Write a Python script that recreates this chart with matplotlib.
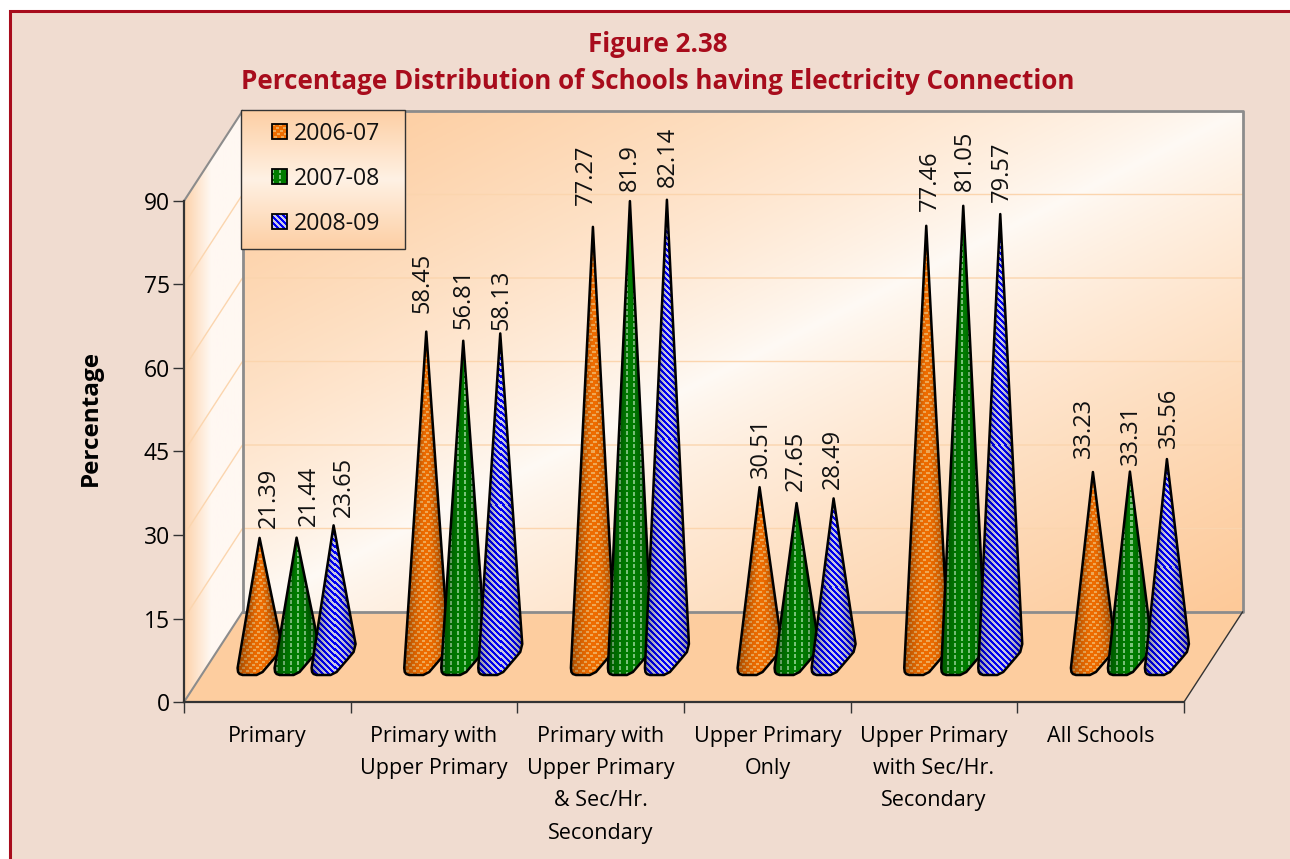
import numpy as np
import matplotlib
matplotlib.use("Agg")
import matplotlib.pyplot as plt
from matplotlib.patches import Polygon, Rectangle

categories = [
    "Primary",
    "Primary with\nUpper Primary",
    "Primary with\nUpper Primary\n& Sec/Hr.\nSecondary",
    "Upper Primary\nOnly",
    "Upper Primary\nwith Sec/Hr.\nSecondary",
    "All Schools",
]
years = ["2006-07", "2007-08", "2008-09"]
values_2006 = [21.39, 58.45, 77.27, 30.51, 77.46, 33.23]
values_2007 = [21.44, 56.81, 81.9, 27.65, 81.05, 33.31]
values_2008 = [23.65, 58.13, 82.14, 28.49, 79.57, 35.56]
yticks = [0, 15, 30, 45, 60, 75, 90]

# label nudges in pixels (dx, gap above the tip), the original has them hand placed
nudge_2006 = [(9, 10), (-4, 19), (-7, 22), (1, 9), (4, 15), (-9, 14)]
nudge_2007 = [(12, 12), (0, 12), (0, 10), (-1, 12), (2, 15), (1, 7)]
nudge_2008 = [(10, 8), (1, 3), (1, 13), (-1, 9), (2, 12), (2, 11)]

panel_col = "#f0dcd0"
frame_col = "#a80c1c"
W, H = 1290, 859
PX_X = 1000 / 6.0   # pixels per category
PX_Y = 501 / 90.0   # pixels per percent
DX = 58.5 / PX_X    # depth of the 3d box
DY = 90 / PX_Y
GAP = 37 / PX_X     # cone spacing
# cone foot outline, pixels from (tip x, foot centre), clockwise from left
foot_x = np.array([-22, -21.5, -20, -17, -3, 3, 15, 20, 22])
foot_y = np.array([-11, -15, -17, -18, -18, -15, -1, 5, 13])

plt.rcParams["font.family"] = ["Open Sans", "DejaVu Sans"]


def mix(c1, c2, t):
    c1 = np.array(matplotlib.colors.to_rgb(c1))
    c2 = np.array(matplotlib.colors.to_rgb(c2))
    t = np.asarray(t)[..., None]
    return c1 * (1 - t) + c2 * t


def texture(kind, px, py):
    # fill pattern of one series, on pixel grids
    if kind == 0:
        row = (py // 3).astype(int)
        mask = ((px + row * 3) % 7 < 3) & (py % 3 < 2)
        return mix("#ee6c00", "#f0b060", mask * 0.9)
    if kind == 1:
        mask = (px % 7 < 2) & (py % 6 < 4)
        return mix("#007c00", "#a4dca4", mask * 0.75)
    mask = (px - py) % 6 < 3
    return mix("#0000f4", "#c8c8e4", mask * 1.0)


def draw_cone(ax, fig, x, value, kind, z):
    tip = (x, DY / 2 + value)
    xs = np.concatenate([[x], x + foot_x[::-1] / PX_X, [x + foot_x[0] / PX_X]])
    ys = np.concatenate([[tip[1]], DY / 2 + foot_y[::-1] / PX_Y, [DY / 2 + foot_y[0] / PX_Y]])
    pts = np.column_stack([xs, ys])

    nx, ny = 48, int((value * PX_Y + 20))
    px, py = np.meshgrid(np.arange(nx) - 24.0, np.arange(ny) * 1.0)
    height = value * PX_Y + 18
    half = np.maximum(22 * (py + 1) / height, 1.0)
    rgb = texture(kind, px + x * PX_X, py + (DY / 2 + value) * PX_Y * -1)
    # simple round shading, dark towards the edges
    edge = np.clip(np.abs(px) / half, 0, 1)
    rgb = rgb * (1.0 - 0.3 * edge[..., None] ** 2)
    x0 = x - 24 / PX_X
    im = ax.imshow(rgb, extent=(x0, x0 + nx / PX_X, tip[1] - ny / PX_Y, tip[1]),
                   aspect="auto", origin="upper", interpolation="nearest", zorder=z)
    im.set_clip_path(Polygon(pts, closed=True, transform=ax.transData))
    im.set_clip_box(fig.bbox)
    ax.add_patch(Polygon(pts, closed=True, fill=False, edgecolor="black", linewidth=1.8,
                         joinstyle="round", clip_on=False, zorder=z + 0.5))


fig = plt.figure(figsize=(W / 100, H / 100), dpi=100, facecolor="white")

# panel and frame
bg = fig.add_axes([0, 0, 1, 1], zorder=0)
bg.set_xlim(0, W)
bg.set_ylim(H, 0)
bg.axis("off")
bg.add_patch(Rectangle((9.5, 10.5), W + 20, H + 20, facecolor=panel_col,
                       edgecolor=frame_col, linewidth=2.2))
bg.text(658, 44.5, "Figure 2.38", color=frame_col, fontsize=18.7, fontweight="bold",
        ha="center", va="center")
bg.text(658, 81.5, "Percentage Distribution of Schools having Electricity Connection",
        color=frame_col, fontsize=18.7, fontweight="bold", ha="center", va="center")

ax = fig.add_axes([184 / W, (H - 702) / H, 1000 / W, 501 / H], zorder=1)
ax.patch.set_visible(False)

# back wall, reflected diagonal gradient
u, v = np.meshgrid(np.linspace(0, 1, 300), np.linspace(0, 1, 200))
t = np.abs(u + v - 1) ** 0.8
ax.imshow(mix("#fffaf5", "#fdc998", t), extent=(DX, 6 + DX, DY, 90 + DY), aspect="auto",
          origin="upper", clip_on=False, zorder=1)

# left wall
u = np.linspace(0, 1, 60)[None, :]
im = ax.imshow(mix("#fdd2aa", "#fff8f2", np.clip(u * 2.2, 0, 1)), extent=(0, DX, 0, 90 + DY),
               aspect="auto", origin="upper", zorder=1)
im.set_clip_path(Polygon([(0, 0), (DX, DY), (DX, 90 + DY), (0, 90)], closed=True, transform=ax.transData))
im.set_clip_box(fig.bbox)

# floor
ax.add_patch(Polygon([(0, 0), (6, 0), (6 + DX, DY), (DX, DY)], closed=True, facecolor="#fdcd9f",
                     edgecolor="none", clip_on=False, zorder=1.1))

# grid on back and left walls
for tick in yticks[1:-1]:
    ax.plot([0, DX, 6 + DX], [tick, tick + DY, tick + DY], color="#fbd5ae", lw=1,
            clip_on=False, zorder=1.2)

# box edges
ax.plot([DX, DX, 6 + DX, 6 + DX, DX], [DY, 90 + DY, 90 + DY, DY, DY], color="#8c8c8c", lw=2,
        clip_on=False, zorder=1.3)
ax.plot([0, DX], [0, DY], color="#8c8c8c", lw=1.5, clip_on=False, zorder=1.3)
ax.plot([0, DX], [90, 90 + DY], color="#8c8c8c", lw=1.5, clip_on=False, zorder=1.3)
ax.plot([6, 6 + DX], [0, DY], color="#333333", lw=1, clip_on=False, zorder=1.3)

# cones
series = [values_2006, values_2007, values_2008]
nudges = [nudge_2006, nudge_2007, nudge_2008]
z = 2.0
for i in range(len(categories)):
    for k in range(3):
        x = i + 0.5 + DX / 2 + (k - 1) * GAP
        draw_cone(ax, fig, x, series[k][i], k, z)
        z += 1
        dx, dy = nudges[k][i]
        ax.annotate(str(series[k][i]), (x, DY / 2 + series[k][i]), xytext=(dx, dy),
                    textcoords="offset pixels", rotation=90, ha="center", va="bottom",
                    fontsize=17, color="#111111", annotation_clip=False, zorder=50)

ax.set_xlim(0, 6)
ax.set_ylim(0, 90)
ax.set_yticks(yticks)
ax.set_xticks(np.arange(7))
ax.set_xticklabels([])
ax.set_xticks(np.arange(6) + 0.5, labels=categories, minor=True)
ax.tick_params(axis="x", which="minor", length=0, pad=17, labelsize=15.5)
ax.tick_params(axis="x", which="major", length=8, width=1, color="#333333")
ax.tick_params(axis="y", length=8, width=1, color="#333333", pad=2, labelsize=16.5)
for label in ax.get_xticklabels(minor=True):
    label.set_linespacing(1.71)
for name in ["top", "right"]:
    ax.spines[name].set_visible(False)
for name in ["left", "bottom"]:
    ax.spines[name].set_color("#333333")
    ax.spines[name].set_linewidth(1.6)
    ax.spines[name].set_zorder(1.4)
ax.set_ylabel("Percentage", fontsize=17.5, fontweight="bold", labelpad=0)
ax.yaxis.set_label_coords((103 - 184) / 1000, (702 - 418) / 501)

# legend box on top of the chart, in figure pixels
leg = fig.add_axes([0, 0, 1, 1], zorder=2)
leg.set_xlim(0, W)
leg.set_ylim(H, 0)
leg.axis("off")
v = np.linspace(0, 1, 140)[:, None]
leg.imshow(mix("#fff1e4", "#fdcfa4", np.abs(v - 0.5) * 2), extent=(241, 405, 249, 110), aspect="auto",
           origin="upper", zorder=1)
leg.add_patch(Rectangle((241, 110), 164, 139, fill=False, edgecolor="#333333", linewidth=1, zorder=2))
for k, year in enumerate(years):
    cy = 133 + 45 * k
    px, py = np.meshgrid(np.arange(15.0), np.arange(15.0))
    leg.imshow(texture(k, px, py), extent=(272, 287, cy + 6, cy - 9), aspect="auto", origin="upper",
               interpolation="nearest", zorder=2)
    leg.add_patch(Rectangle((272, cy - 9), 15, 15, fill=False, edgecolor="black", linewidth=1.3, zorder=3))
    leg.text(294, cy + 1, year, fontsize=16.7, va="center", ha="left", color="#111111", zorder=3)
leg.set_xlim(0, W)
leg.set_ylim(H, 0)

fig.savefig("out.png", dpi=100)
